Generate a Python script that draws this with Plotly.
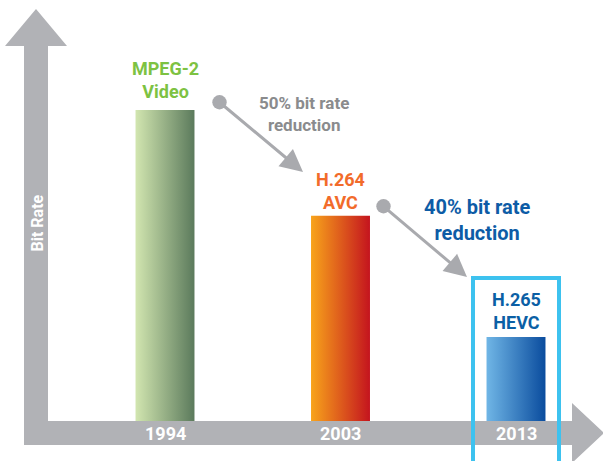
import plotly.graph_objects as go

# ---- data ----
codecs = ["MPEG-2<br>Video", "H.264<br>AVC", "H.265<br>HEVC"]
years = ["1994", "2003", "2013"]
bit_rate = [100, 66, 27]          # relative bit rate (illustrative)
reductions = ["50% bit rate<br>reduction", "40% bit rate<br>reduction"]

# ---- style ----
W, H = 603, 461
FONT = "Roboto, Open Sans, sans-serif"
GRAY = "#B1B2B6"
ARROW_GRAY = "#A9AAAE"
label_colors = ["#7DC242", "#F26B2A", "#0B5FA5"]
label_shifts = [6, 1, 2]
grads = [("#D2E6B0", "#5B7A5C"), ("#F8A41B", "#C4141E"), ("#70B6E6", "#0A4C9E")]
BAR_W = 0.336
X0_PX, X_STEP = 165.0, 175.5     # px position of first category, px per category
Y0_PX, Y_SCALE = 421.0, 3.11     # px position of value 0, px per unit

xr = [(0 - X0_PX) / X_STEP, (W - X0_PX) / X_STEP]
yr = [-(H - Y0_PX) / Y_SCALE, Y0_PX / Y_SCALE]

def px(x):
    return x / W

def py(y):
    return 1 - y / H

fig = go.Figure()

# gradient bars
for i, (v, (c0, c1)) in enumerate(zip(bit_rate, grads)):
    l, r = i - BAR_W / 2, i + BAR_W / 2
    fig.add_trace(go.Scatter(
        x=[l, r, r, l, l], y=[0, 0, v, v, 0],
        mode="lines", fill="toself", line=dict(width=0),
        fillgradient=dict(type="horizontal", colorscale=[[0, c0], [1, c1]]),
        hoverinfo="skip", showlegend=False))

shapes = []
# vertical axis arrow
shapes.append(dict(type="path", xref="paper", yref="paper", layer="below",
    path=(f"M {px(24)} {py(445)} L {px(24)} {py(46)} L {px(5)} {py(46)} "
          f"L {px(36)} {py(9)} L {px(67)} {py(46)} L {px(48)} {py(46)} "
          f"L {px(48)} {py(445)} Z"),
    fillcolor=GRAY, line=dict(width=0)))
# horizontal axis arrow
shapes.append(dict(type="path", xref="paper", yref="paper", layer="below",
    path=(f"M {px(24)} {py(421)} L {px(572)} {py(421)} L {px(572)} {py(403)} "
          f"L {px(604)} {py(433)} L {px(572)} {py(463)} L {px(572)} {py(445)} "
          f"L {px(24)} {py(445)} Z"),
    fillcolor=GRAY, line=dict(width=0)))
# highlight box around newest codec
shapes.append(dict(type="rect", xref="paper", yref="paper", layer="above",
    x0=px(473), x1=px(559), y0=py(470), y1=py(278),
    line=dict(color="#3DC2EF", width=4), fillcolor="rgba(0,0,0,0)"))

annotations = []
# axis title
annotations.append(dict(x=px(36.5), y=py(223), xref="paper", yref="paper",
    xanchor="center", yanchor="middle",
    text="Bit Rate", textangle=-90, showarrow=False,
    font=dict(family=FONT, size=16, color="white", weight="bold")))
# year labels
for i, yv in enumerate(years):
    annotations.append(dict(x=i, y=py(433), xref="x", yref="paper", text=yv,
        showarrow=False, xanchor="center", yanchor="middle",
        font=dict(family=FONT, size=18, color="white", weight="bold")))
# codec labels
for i, (c, v) in enumerate(zip(codecs, bit_rate)):
    annotations.append(dict(x=i, y=v, xref="x", yref="y", text=c,
        showarrow=False, xanchor="center", yanchor="bottom", yshift=label_shifts[i],
        font=dict(family=FONT, size=18, color=label_colors[i], weight="bold")))
# reduction arrows
arrows = [((218, 101), (303, 172)), ((382, 205), (467, 277))]
for (t, h) in arrows:
    annotations.append(dict(
        x=(h[0] - X0_PX) / X_STEP, y=(Y0_PX - h[1]) / Y_SCALE, xref="x", yref="y",
        ax=t[0] - h[0], ay=t[1] - h[1], text="", showarrow=True,
        arrowhead=2, arrowsize=1.5, arrowwidth=3, arrowcolor=ARROW_GRAY,
        arrowside="end+start", startarrowhead=6, startarrowsize=1.2))
# reduction texts
annotations.append(dict(x=px(304), y=py(114), xref="paper", yref="paper",
    xanchor="center", yanchor="middle",
    text=reductions[0], showarrow=False,
    font=dict(family=FONT, size=17, color="#8A8B8D", weight="bold")))
annotations.append(dict(x=px(477), y=py(220), xref="paper", yref="paper",
    xanchor="center", yanchor="middle",
    text=reductions[1], showarrow=False,
    font=dict(family=FONT, size=20, color="#0D5CA6", weight="bold")))

fig.update_layout(
    width=W, height=H, margin=dict(l=0, r=0, t=0, b=0),
    paper_bgcolor="white", plot_bgcolor="white",
    xaxis=dict(range=xr, visible=False, fixedrange=True),
    yaxis=dict(range=yr, visible=False, fixedrange=True),
    shapes=shapes, annotations=annotations, showlegend=False)

fig.write_html("out.html", config={"displayModeBar": False},
               post_script="document.body.style.margin='0';")
